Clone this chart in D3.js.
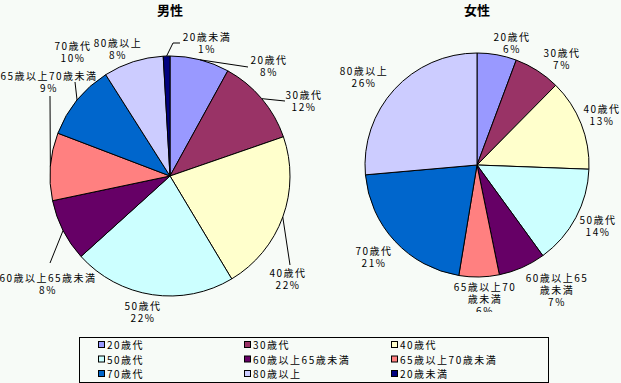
<!DOCTYPE html>
<html>
<head>
<meta charset="utf-8">
<script src="https://cdn.jsdelivr.net/npm/d3@7"></script>
<style>
  body { margin: 0; background: #f7fbf7; }
  svg { display: block; font-family: "Noto Sans CJK JP", sans-serif; }
</style>
</head>
<body>
<script>
// categories in legend order
const categories = ["20歳代", "30歳代", "40歳代", "50歳代", "60歳以上65歳未満", "65歳以上70歳未満", "70歳代", "80歳以上", "20歳未満"];
const colors = ["#9999ff", "#993366", "#ffffcc", "#ccffff", "#660066", "#ff8080", "#0066cc", "#ccccff", "#000080"];

// shares (%), same order as categories
const maleValues = [8.0, 11.7, 21.7, 21.9, 8.4, 9.1, 10.2, 8.1, 0.9];
const femaleValues = [5.7, 6.7, 13.2, 14.4, 6.8, 5.8, 21.0, 26.4, 0];

const width = 621, height = 383;
const svg = d3.select("body").append("svg")
  .attr("width", width).attr("height", height);

svg.append("defs").append("clipPath").attr("id", "plotclip")
  .append("rect").attr("x", 0).attr("y", 0).attr("width", width).attr("height", 312);

const color = d3.scaleOrdinal().domain(categories).range(colors);
const pie = d3.pie().sort(null).value(d => d.value);

// label layout: [x, y, leader end x, leader end y] per category
const maleLabels = {
  "20歳代": [268, 60, 248, 67],
  "30歳代": [303, 95, 285, 101],
  "40歳代": [287, 273, 290, 265],
  "50歳代": [142, 306],
  "60歳以上65歳未満": [47, 278, 50, 263],
  "65歳以上70歳未満": [48, 76, 50, 96],
  "70歳代": [72, 46, 75, 82],
  "80歳以上": [117, 43],
  "20歳未満": [206, 37, 173, 43, 180, 43]
};
const femaleLabels = {
  "20歳代": [511, 37],
  "30歳代": [561, 53],
  "40歳代": [601, 109],
  "50歳代": [597, 220],
  "60歳以上65歳未満": [556, 278],
  "65歳以上70歳未満": [484, 287],
  "70歳代": [373, 251],
  "80歳以上": [363, 71]
};

function drawPie(title, values, cx, cy, r, labels, wrap) {
  const data = categories.map((c, i) => ({ cat: c, value: values[i] })).filter(d => d.value > 0);
  const total = d3.sum(data, d => d.value);
  const arcs = pie(data);
  const arc = d3.arc().innerRadius(0).outerRadius(r);

  const g = svg.append("g");
  if (wrap) g.attr("clip-path", "url(#plotclip)");

  g.append("text").attr("x", cx).attr("y", 15)
    .attr("text-anchor", "middle").style("font-size", "13px").style("font-weight", "bold")
    .text(title);

  g.append("g").attr("transform", `translate(${cx},${cy})`)
    .selectAll("path").data(arcs).enter().append("path")
    .attr("d", arc)
    .attr("fill", d => color(d.data.cat))
    .attr("stroke", "#000").attr("stroke-width", 1);

  arcs.forEach(d => {
    const L = labels[d.data.cat];
    if (!L) return;
    const pct = Math.round(d.data.value / total * 100) + "%";
    if (L.length >= 4) {
      const mid = (d.startAngle + d.endAngle) / 2;
      const ex = cx + Math.sin(mid) * r, ey = cy - Math.cos(mid) * r;
      const pts = [[ex, ey], [L[2], L[3]]];
      if (L.length >= 6) pts.push([L[4], L[5]]);
      g.append("path").attr("d", d3.line()(pts))
        .attr("fill", "none").attr("stroke", "#000").attr("stroke-width", 1);
    }
    const lines = [];
    if (wrap && d.data.cat.length > 7) {
      lines.push(d.data.cat.slice(0, 7), d.data.cat.slice(7));
    } else {
      lines.push(d.data.cat);
    }
    lines.push(pct);
    const t = g.append("text").attr("text-anchor", "middle")
      .style("font-size", "10px").style("letter-spacing", "1.5px");
    lines.forEach((s, i) => {
      t.append("tspan").attr("x", L[0] + 1).attr("y", L[1] + 4 + i * 12).text(s);
    });
  });
}

drawPie("男性", maleValues, 170, 176, 120, maleLabels, false);
drawPie("女性", femaleValues, 477, 165, 112, femaleLabels, true);

// Legend
const legend = svg.append("g");
legend.append("rect")
  .attr("x", 79.5).attr("y", 337.5).attr("width", 469).attr("height", 45)
  .attr("fill", "none").attr("stroke", "#000");
const colX = [102, 248, 395];
categories.forEach((c, i) => {
  const x = colX[i % 3], y = 345 + Math.floor(i / 3) * 14.5;
  legend.append("rect")
    .attr("x", x - 3.5).attr("y", y - 3.5).attr("width", 6).attr("height", 6)
    .attr("fill", color(c)).attr("stroke", "#000");
  legend.append("text").attr("x", x + 5).attr("y", y + 4)
    .style("font-size", "10px").style("letter-spacing", "1.5px").text(c);
});
</script>
</body>
</html>
